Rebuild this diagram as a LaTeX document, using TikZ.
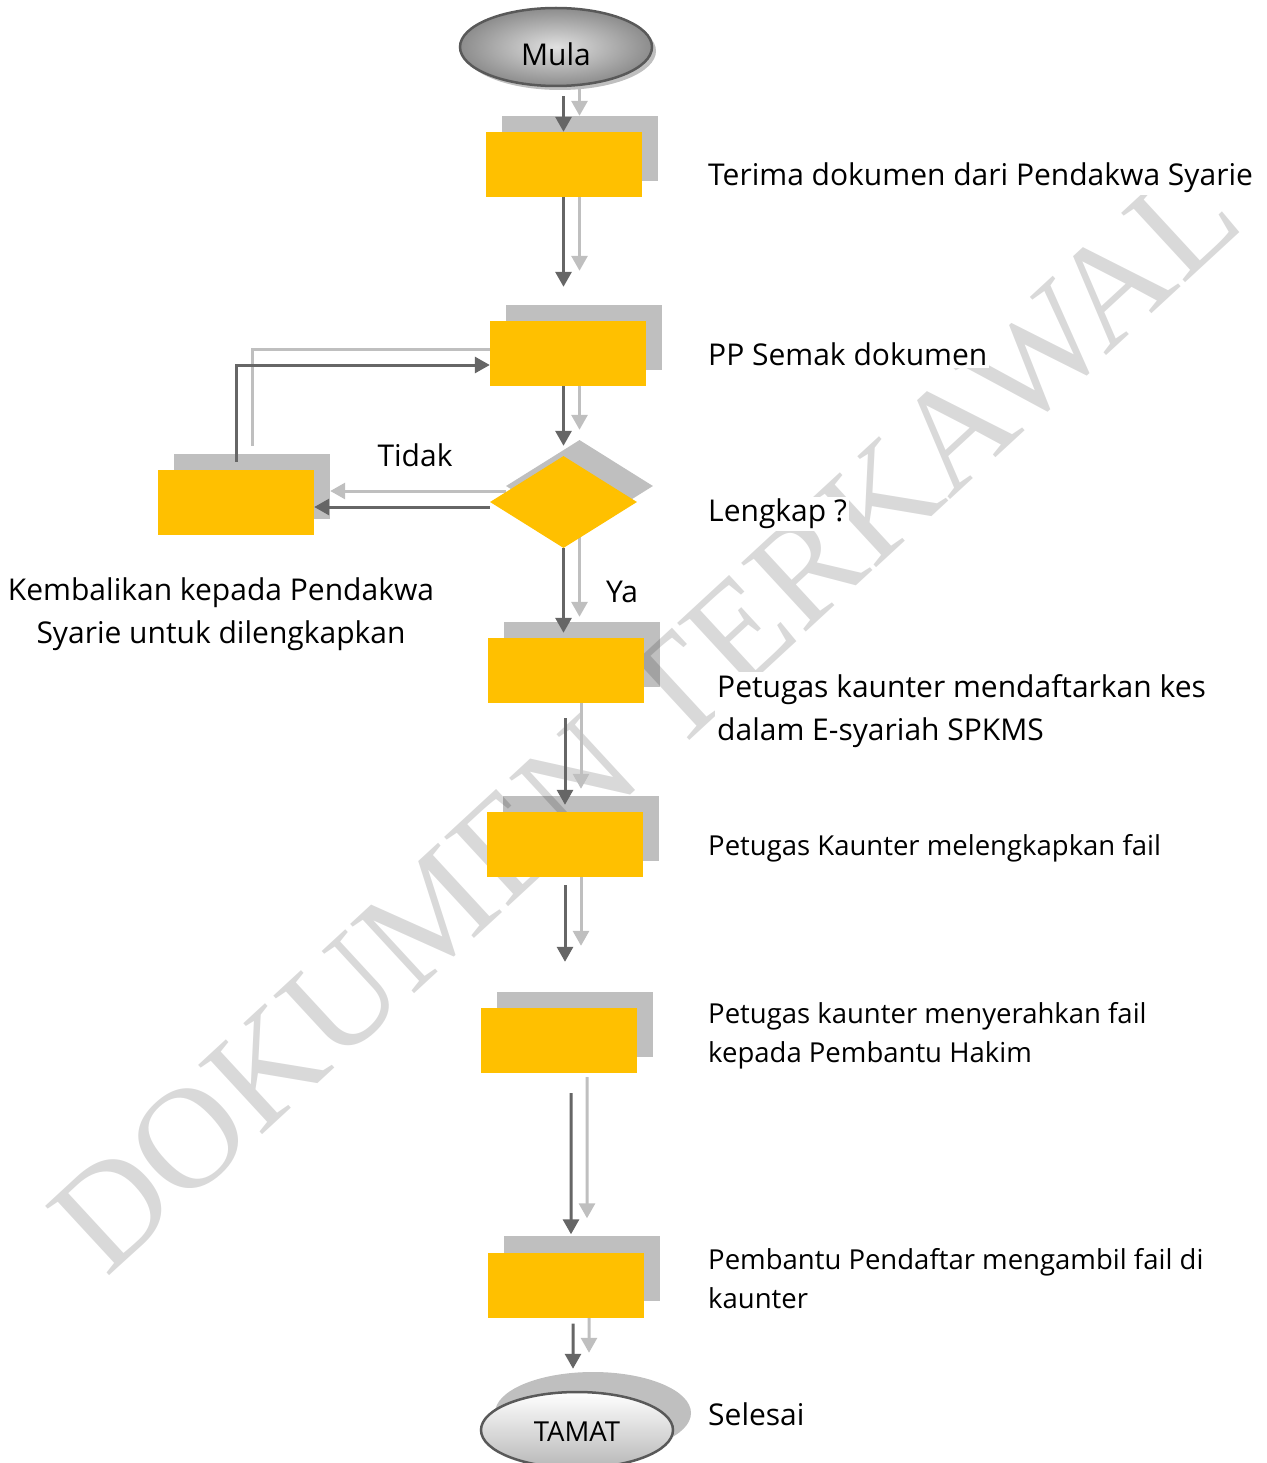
\documentclass[tikz,border=0pt]{standalone}
\usepackage{fontspec}
\setmainfont{Open Sans}
\newfontfamily\markFont{Liberation Serif}
\usepackage{xcolor}
\usetikzlibrary{shapes.geometric}
\usetikzlibrary{arrows.meta}
\usetikzlibrary{backgrounds}
\definecolor{boxColor}{HTML}{FFC000}
\definecolor{shadowColor}{HTML}{BFBFBF}
\definecolor{linkColor}{HTML}{666666}
\definecolor{linkShadowColor}{HTML}{BFBFBF}
\definecolor{edgeColor}{HTML}{595959}
\def\bigText{\fontsize{30bp}{43bp}\selectfont}
\def\smallText{\fontsize{27.5bp}{39bp}\selectfont}

\begin{document}
\begin{tikzpicture}[x=1bp,y=-1bp,
box/.style={rectangle, inner sep=0pt, minimum width=156bp, minimum height=65bp, fill=boxColor},
boxShadow/.style={box, fill=shadowColor},
decision/.style={diamond, inner sep=0pt, minimum width=147bp, minimum height=92bp, fill=boxColor},
decisionShadow/.style={decision, fill=shadowColor},
terminal/.style={ellipse, inner sep=0pt, minimum width=192bp, minimum height=78bp, draw=edgeColor, line width=2.5bp},
link/.style={draw=linkColor, line width=3bp, -{Triangle[width=16bp,length=15bp]}},
linkShadow/.style={link, draw=linkShadowColor, transform canvas={xshift=16bp, yshift=16bp}},
descText/.style={anchor=west, fill=white, inner sep=2bp, align=left, text=black, font=\bigText},
descSmall/.style={descText, font=\smallText}]

\useasboundingbox (0, 0) rectangle (1266, 1463);

% main nodes
\begin{scope}
\node[terminal, shade, inner color=black!12, outer color=black!45,
font=\fontsize{30bp}{30bp}\selectfont] (mula) at (556, 47) {\raisebox{-7bp}[\height][\depth]{Mula}};
\node[box] (box1) at (563.5, 164.5) {};
\node[box] (box2) at (568, 353.5) {};
\node[decision] (dia) at (563.5, 502) {};
\node[box] (back) at (236, 502.5) {};
\node[box] (box3) at (566, 670.5) {};
\node[box] (box4) at (565, 844.5) {};
\node[box] (box5) at (558.5, 1040.5) {};
\node[box] (box6) at (565.5, 1285) {};
\node[terminal, top color=white, bottom color=black!28, minimum height=76bp,
font=\fontsize{27.5bp}{30bp}\selectfont] (tamat) at (577, 1430) {\raisebox{-2bp}[\height][\depth]{TAMAT}};
\end{scope}

% shadow layer
\begin{scope}[on background layer]
\node[boxShadow] (box1S) at (579.5, 148.5) {};
\node[boxShadow] (box2S) at (584, 337.5) {};
\node[decisionShadow] (diaS) at (579.5, 486) {};
\node[boxShadow] (backS) at (252, 486.5) {};
\node[boxShadow] (box3S) at (582, 654.5) {};
\node[boxShadow] (box4S) at (581, 828.5) {};
\node[boxShadow] (box5S) at (574.5, 1024.5) {};
\node[boxShadow] (box6S) at (581.5, 1268.5) {};
\node[ellipse, fill=shadowColor, minimum width=196bp, minimum height=82bp] (tamatS) at (593, 1413) {};
\node[ellipse, fill=shadowColor, minimum width=192bp, minimum height=78bp] (mulaS) at (560, 51) {};

% watermark
\node[rotate=42.7, text=black, text opacity=.15, inner sep=0pt] (mark) at (645, 718)
{\markFont\fontsize{144bp}{144bp}\selectfont DOKUMEN TERKAWAL};

% link shadows
\draw[linkShadow, shorten <=9bp] (mula.south -| box1.north) -- (box1.north);
\draw[linkShadow, shorten >=34bp] (box1.south) -- (box1.south |- box2.north);
\draw[linkShadow, shorten >=10bp] (box2.south -| dia.north) -- (dia.north);
\draw[linkShadow] ([yshift=-5bp]dia.west) -- ([yshift=-5bp]dia.west -| back.east);
\draw[linkShadow, shorten <=8bp] (back.north) |- ([yshift=-11.5bp]box2.west);
\draw[linkShadow, shorten >=5bp] (dia.south) -- (dia.south |- box3.north);
\draw[linkShadow, shorten <=15bp, shorten >=7bp] (box3.south -| box4.north) -- (box4.north);
\draw[linkShadow, shorten <=8bp, shorten >=46bp] (box4.south) -- (box4.south |- box5.north);
\draw[linkShadow, shorten <=20bp, shorten >=18bp] ([xshift=12.5bp]box5.south) -- ([xshift=5.5bp]box6.north);
\draw[linkShadow, shorten <=6bp, shorten >=22bp] ([xshift=7.5bp]box6.south) -- ([xshift=-4bp]tamat.north);
\end{scope}

% links
\begin{scope}
\draw[link, shorten <=9bp] (mula.south -| box1.north) -- (box1.north);
\draw[link, shorten >=34bp] (box1.south) -- (box1.south |- box2.north);
\draw[link, shorten >=10bp] (box2.south -| dia.north) -- (dia.north);
\draw[link] ([yshift=-5bp]dia.west) -- ([yshift=-5bp]dia.west -| back.east);
\draw[link, shorten <=8bp] (back.north) |- ([yshift=-11.5bp]box2.west);
\draw[link, shorten >=5bp] (dia.south) -- (dia.south |- box3.north);
\draw[link, shorten <=15bp, shorten >=7bp] (box3.south -| box4.north) -- (box4.north);
\draw[link, shorten <=8bp, shorten >=46bp] (box4.south) -- (box4.south |- box5.north);
\draw[link, shorten <=20bp, shorten >=18bp] ([xshift=12.5bp]box5.south) -- ([xshift=5.5bp]box6.north);
\draw[link, shorten <=6bp, shorten >=22bp] ([xshift=7.5bp]box6.south) -- ([xshift=-4bp]tamat.north);
\end{scope}

% text layer
\begin{scope}
\node[descText] (t1) at (706, 178) {Terima dokumen dari Pendakwa Syarie};
\node[descText] (t2) at (706, 354) {PP Semak dokumen};
\node[descText] (t3) at (706, 514) {Lengkap ?};
\node[descText] (t4) at (715, 711) {Petugas kaunter mendaftarkan kes\\dalam E-syariah SPKMS};
\node[descSmall] (t5) at (706, 848) {Petugas Kaunter melengkapkan fail};
\node[descSmall] (t6) at (706, 1036) {Petugas kaunter menyerahkan fail\\kepada Pembantu Hakim};
\node[descSmall] (t7) at (706, 1279) {Pembantu Pendaftar mengambil fail di\\kaunter};
\node[descText] (t8) at (706, 1414) {Selesai};
\node[fill=white, inner sep=2bp, align=center, font=\bigText] (tBack) at (221, 614) {Kembalikan kepada Pendakwa\\Syarie untuk dilengkapkan};
\node[inner sep=0pt, font=\bigText] (tNo) at (415, 455) {Tidak};
\node[inner sep=0pt, font=\bigText] (tYes) at (622, 592) {Ya};
\end{scope}
\end{tikzpicture}
\end{document}
